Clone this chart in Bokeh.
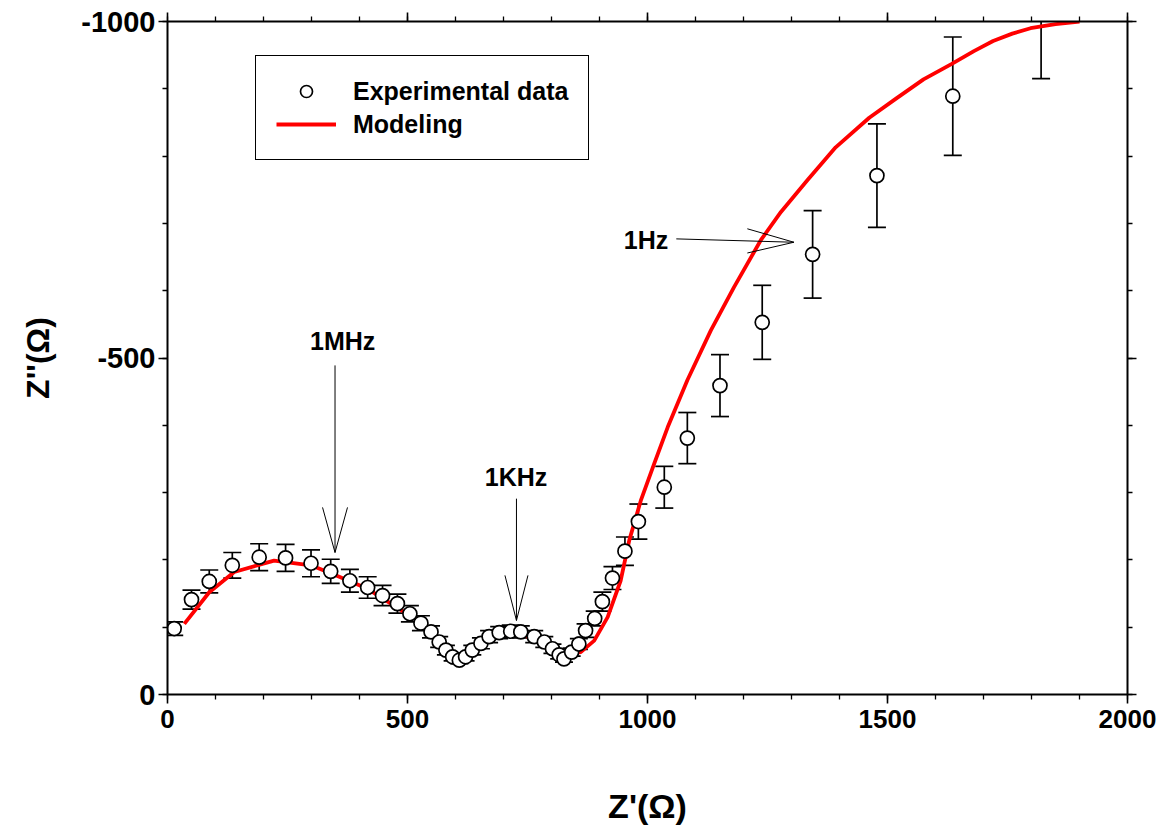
from bokeh.plotting import figure
from bokeh.models import (Range1d, LinearAxis, SingleIntervalTicker, Whisker, TeeHead,
                          ColumnDataSource, Legend, LegendItem, CustomLabelingPolicy)
from bokeh.core.properties import value
from bokeh.embed import file_html
from bokeh.resources import INLINE

# ---- data ----
exp_zre = [14, 50, 87, 135, 191, 246, 299, 340, 380, 417, 448, 479, 505, 528, 549, 566, 580, 594,
           608, 621, 635, 653, 670, 691, 715, 736, 764, 785, 802, 816, 826, 842, 857, 871, 890, 906,
           927, 953, 981, 1035, 1083, 1151, 1239, 1344, 1478, 1636, 1820]
exp_zim = [-98, -141, -168, -192, -204, -203, -195, -183, -169, -159, -147, -135, -120, -106, -93,
           -78, -66, -56, -51, -56, -66, -76, -86, -92, -94, -93, -86, -78, -68, -59, -53, -63, -75,
           -95, -113, -138, -173, -213, -257, -308, -381, -459, -553, -654, -771, -889, -1015]
exp_err = [10, 14, 17, 19, 20, 20, 20, 18, 17, 16, 15, 14, 12, 11, 9, 8, 7, 6, 5, 6, 7, 8, 9, 9, 9,
           9, 9, 8, 7, 6, 5, 6, 8, 10, 11, 14, 17, 21, 26, 31, 38, 46, 55, 65, 77, 88, 100]

model_zre = [35, 87, 139, 222, 299, 354, 417, 472, 521, 555, 583, 608, 632, 660, 694, 726, 764, 799,
             833, 861, 889, 917, 944, 962, 986, 1014, 1042, 1083, 1132, 1180, 1236, 1278, 1333,
             1392, 1462, 1517, 1575, 1634, 1680, 1720, 1760, 1798, 1850, 1900]
model_zim = [-105, -152, -182, -199, -192, -176, -157, -132, -110, -85, -63, -55, -63, -78, -88, -91,
             -83, -70, -60, -63, -80, -115, -169, -229, -288, -343, -397, -467, -541, -605, -675,
             -717, -764, -813, -857, -885, -914, -937, -956, -971, -982, -990, -996, -1000]

x_ticks = [0, 500, 1000, 1500, 2000]
y_ticks = [0, -500, -1000]
y_tick_labels = ["0", "-500", "-1000"]

# frequency annotations: label, label position, arrow tail, arrow tip, head ends
ann_labels = ["1MHz", "1KHz", "1Hz"]
ann_label_x = [365, 726, 997]
ann_label_y = [-526, -323, -676]
ann_tail_x = [349, 727, 1060]
ann_tail_y = [-489, -291, -677]
ann_tip_x = [349, 727, 1305]
ann_tip_y = [-211, -110, -672]
ann_head1_x = [323, 703, 1208]
ann_head1_y = [-278, -177, -692]
ann_head2_x = [375, 751, 1208]
ann_head2_y = [-278, -177, -656]

FONT = "Liberation Sans"

p = figure(width=1168, height=836, x_range=Range1d(0, 2000), y_range=Range1d(0, -1000),
           output_backend="svg", toolbar_location=None,
           min_border_left=167, min_border_right=41, min_border_top=21, min_border_bottom=142)
p.xgrid.visible = False
p.ygrid.visible = False
p.outline_line_color = None
p.background_fill_color = "white"
p.border_fill_color = "white"

xt = SingleIntervalTicker(interval=500, num_minor_ticks=5)
yt = SingleIntervalTicker(interval=500, num_minor_ticks=5)

def style_axis(ax):
    ax.axis_line_width = 2
    ax.axis_line_color = "black"
    ax.major_tick_line_width = 1.6
    ax.minor_tick_line_width = 1.3
    ax.major_tick_in = 0
    ax.major_tick_out = 9
    ax.minor_tick_in = 0
    ax.minor_tick_out = 5
    ax.major_label_text_font = FONT
    ax.major_label_text_font_style = "bold"
    ax.major_label_text_font_size = "26px"
    ax.major_label_text_color = "black"
    ax.axis_label_text_color = "black"

xa = p.xaxis[0]
xa.ticker = xt
style_axis(xa)
xa.major_label_standoff = 6
xa.axis_label = "Z'(Ω)"
xa.axis_label_text_font = FONT
xa.axis_label_text_font_style = "bold"
xa.axis_label_text_font_size = "34px"
xa.axis_label_standoff = 56

ya = p.yaxis[0]
ya.ticker = yt
style_axis(ya)
ya.major_label_text_font_size = "29px"
ya.major_label_standoff = 3
ya.major_label_overrides = {t: s for t, s in zip(y_ticks, y_tick_labels)}
ya.axis_label = "Z''(Ω)"
ya.axis_label_text_font = FONT
ya.axis_label_text_font_style = "bold"
ya.axis_label_text_font_size = "32px"
ya.axis_label_standoff = 22

top = LinearAxis(ticker=xt)
style_axis(top)
top.major_label_text_font_size = "1px"
top.major_label_policy = CustomLabelingPolicy(code="return new Set()")
top.major_label_standoff = 0
p.add_layout(top, "above")
right = LinearAxis(ticker=yt)
style_axis(right)
right.major_label_text_font_size = "1px"
right.major_label_policy = CustomLabelingPolicy(code="return new Set()")
right.major_label_standoff = 0
p.add_layout(right, "right")

# error bars
src = ColumnDataSource(data=dict(
    x=exp_zre, y=exp_zim,
    upper=[y - e for y, e in zip(exp_zim, exp_err)],
    lower=[y + e for y, e in zip(exp_zim, exp_err)]))
wh = Whisker(source=src, base="x", upper="upper", lower="lower", dimension="height",
             line_width=1.7, line_color="black",
             upper_head=TeeHead(size=18, line_width=1.7, line_color="black"),
             lower_head=TeeHead(size=18, line_width=1.7, line_color="black"))
p.add_layout(wh)

# model curve
model_r = p.line(model_zre, model_zim, line_color="#ff0000", line_width=3.8, line_join="round")

# experimental points
exp_r = p.scatter("x", "y", source=src, marker="circle", size=14, line_color="black",
                  line_width=1.7, fill_color="white")

# annotations
p.segment(ann_tail_x, ann_tail_y, ann_tip_x, ann_tip_y, line_color="black", line_width=1)
p.segment(ann_head1_x, ann_head1_y, ann_tip_x, ann_tip_y, line_color="black", line_width=1)
p.segment(ann_head2_x, ann_head2_y, ann_tip_x, ann_tip_y, line_color="black", line_width=1)
p.text(ann_label_x, ann_label_y, text=ann_labels, text_font=value(FONT), text_font_style="bold",
       text_font_size="25px", text_align="center", text_baseline="middle", text_color="black")

legend = Legend(items=[LegendItem(label="Experimental data", renderers=[exp_r]),
                       LegendItem(label="Modeling", renderers=[model_r])],
                location=(88, 534))
legend.border_line_color = "black"
legend.border_line_alpha = 1
legend.border_line_width = 1.5
legend.background_fill_color = "white"
legend.background_fill_alpha = 1
legend.padding = 20
legend.spacing = 3
legend.margin = 0
legend.label_height = 30
legend.glyph_height = 30
legend.glyph_width = 60
legend.label_standoff = 17
legend.label_text_font = FONT
legend.label_text_font_style = "bold"
legend.label_text_font_size = "25px"
legend.label_text_color = "black"
p.add_layout(legend, "center")

open("out.html", "w").write(file_html(p, INLINE))
